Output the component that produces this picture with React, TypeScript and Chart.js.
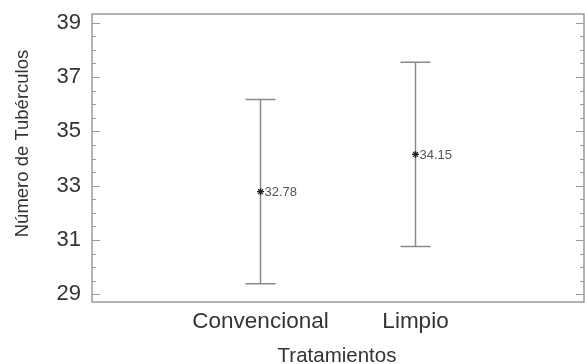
import React, { useEffect, useRef } from "react";
import { Chart, registerables } from "chart.js";

Chart.register(...registerables);

const categories = ["Convencional", "Limpio"];
const means = [32.78, 34.15];
const lower = [29.39, 30.76];
const upper = [36.17, 37.54];
const meanLabels = ["32.78", "34.15"];
const yTicks = [29, 31, 33, 35, 37, 39];
const yMinorStep = 0.5;
const xTitle = "Tratamientos";
const yTitle = "Número de Tubérculos";

const FONT = '"Liberation Sans", Arial, sans-serif';
const FRAME = "#9a9a9a";
const BAR = "#8a8a8a";

const decorPlugin = {
  id: "decor",
  beforeDatasetsDraw(chart: any) {
    const { ctx, scales } = chart;
    const x = scales.x;
    const y = scales.y;
    ctx.save();
    ctx.strokeStyle = BAR;
    ctx.lineWidth = 1.5;
    for (let i = 0; i < means.length; i++) {
      const px = x.getPixelForValue(i + 1);
      const top = y.getPixelForValue(upper[i]);
      const bot = y.getPixelForValue(lower[i]);
      ctx.beginPath();
      ctx.moveTo(px, top);
      ctx.lineTo(px, bot);
      ctx.moveTo(px - 15, top);
      ctx.lineTo(px + 15, top);
      ctx.moveTo(px - 15, bot);
      ctx.lineTo(px + 15, bot);
      ctx.stroke();
    }
    ctx.restore();
  },
  afterDatasetsDraw(chart: any) {
    const { ctx, scales } = chart;
    const x = scales.x;
    const y = scales.y;
    ctx.save();
    ctx.fillStyle = "#555";
    ctx.font = `13px ${FONT}`;
    ctx.textAlign = "left";
    ctx.textBaseline = "middle";
    for (let i = 0; i < means.length; i++) {
      ctx.fillText(meanLabels[i], x.getPixelForValue(i + 1) + 4, y.getPixelForValue(means[i]) + 1);
    }
    ctx.restore();
  },
  afterDraw(chart: any) {
    const { ctx, chartArea: a, scales } = chart;
    const y = scales.y;
    ctx.save();
    ctx.strokeStyle = FRAME;
    ctx.lineWidth = 1.5;
    ctx.strokeRect(a.left, a.top, a.right - a.left, a.bottom - a.top);
    ctx.lineWidth = 1.2;
    const lo = yTicks[0];
    const hi = yTicks[yTicks.length - 1];
    ctx.beginPath();
    for (let v = lo; v <= hi + 1e-9; v += yMinorStep) {
      const major = yTicks.some((t) => Math.abs(t - v) < 1e-6);
      const len = major ? 8 : 4;
      const py = Math.round(y.getPixelForValue(v)) + 0.5;
      ctx.moveTo(a.left, py);
      ctx.lineTo(a.left + len, py);
      ctx.moveTo(a.right, py);
      ctx.lineTo(a.right - len, py);
    }
    ctx.stroke();
    ctx.fillStyle = "#333";
    ctx.textAlign = "center";
    ctx.textBaseline = "middle";
    ctx.font = `20.5px ${FONT}`;
    ctx.fillText(xTitle, (a.left + a.right) / 2 - 1, 356);
    ctx.font = `18.5px ${FONT}`;
    ctx.translate(23, 143.5);
    ctx.rotate(-Math.PI / 2);
    ctx.fillText(yTitle, 0, 0);
    ctx.restore();
  },
};

export default function App() {
  const ref = useRef<HTMLCanvasElement>(null);
  useEffect(() => {
    if (!ref.current) return;
    const chart = new Chart(ref.current, {
      type: "scatter",
      data: {
        datasets: [
          {
            data: means.map((m, i) => ({ x: i + 1, y: m })),
            pointStyle: "star",
            radius: 3.5,
            borderColor: "#222",
            backgroundColor: "#222",
            borderWidth: 1.2,
            clip: false,
          },
        ],
      },
      options: {
        animation: false,
        responsive: true,
        maintainAspectRatio: false,
        layout: { autoPadding: false, padding: { top: 14, right: 1, left: 0, bottom: 0 } },
        plugins: { legend: { display: false }, tooltip: { enabled: false } },
        scales: {
          x: {
            type: "linear",
            min: -0.087,
            max: 3.087,
            grid: { display: false, drawTicks: false },
            border: { display: false },
            afterBuildTicks: (s: any) => {
              s.ticks = categories.map((_, i) => ({ value: i + 1 }));
            },
            afterFit: (s: any) => {
              s.height = 62;
              s.paddingLeft = 0;
              s.paddingRight = 0;
            },
            ticks: {
              autoSkip: false,
              maxRotation: 0,
              padding: 6,
              color: "#333",
              font: { size: 22.5, family: FONT },
              callback: (v: any) => categories[Math.round(v) - 1] ?? "",
            },
          },
          y: {
            type: "linear",
            min: 28.72,
            max: 39.32,
            grid: { display: false, drawTicks: false },
            border: { display: false },
            afterBuildTicks: (s: any) => {
              s.ticks = yTicks.map((v) => ({ value: v }));
            },
            afterFit: (s: any) => {
              s.width = 92;
              s.paddingTop = 0;
              s.paddingBottom = 0;
            },
            ticks: {
              padding: 11,
              color: "#333",
              font: { size: 22, family: FONT },
              callback: (v: any) => String(v),
            },
          },
        },
      },
      plugins: [decorPlugin],
    });
    return () => chart.destroy();
  }, []);
  return (
    <div style={{ position: "absolute", left: 0, top: 0, width: 585, height: 364 }}>
      <canvas ref={ref} />
    </div>
  );
}
